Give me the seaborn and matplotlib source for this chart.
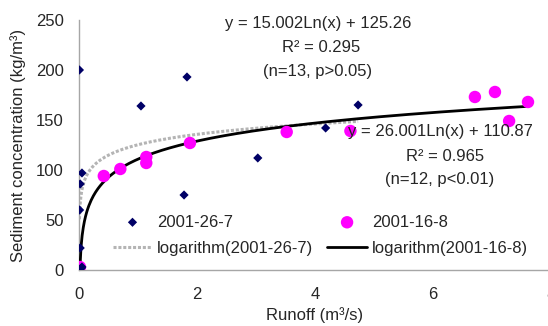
import numpy as np
import pandas as pd
import matplotlib
matplotlib.use("Agg")
import matplotlib.pyplot as plt
import seaborn as sns

# 2001-26-7 observations (runoff m3/s, sediment kg/m3)
runoff_jul = [0.007, 0.01, 0.02, 0.02, 0.05, 0.04, 0.05, 1.05, 1.78, 1.83, 3.03, 4.18, 4.73]
sed_jul = [200, 60, 86, 22, 97, 2, 3, 164, 75, 193, 112, 142, 165]

# 2001-16-8 observations
runoff_aug = [0.015, 0.42, 0.70, 1.14, 1.14, 1.88, 3.52, 4.60, 6.71, 7.05, 7.29, 7.61]
sed_aug = [3, 94, 101, 107, 113, 127, 138, 139, 173, 178, 149, 168]

# logarithmic trend coefficients shown on the chart
coef_jul = (15.002, 125.26)
coef_aug = (26.001, 110.87)

sns.set_style("white")
plt.rcParams['font.family'] = ['Liberation Sans', 'DejaVu Sans']
plt.rcParams['font.size'] = 12

df_jul = pd.DataFrame({'Runoff': runoff_jul, 'Sediment': sed_jul})
df_aug = pd.DataFrame({'Runoff': runoff_aug, 'Sediment': sed_aug})

xj = np.linspace(min(runoff_jul), max(runoff_jul), 400)
xa = np.linspace(min(runoff_aug), max(runoff_aug), 400)
fit_jul = pd.DataFrame({'Runoff': xj, 'Sediment': coef_jul[0] * np.log(xj) + coef_jul[1]})
fit_aug = pd.DataFrame({'Runoff': xa, 'Sediment': coef_aug[0] * np.log(xa) + coef_aug[1]})

fig = plt.figure(figsize=(5.48, 3.26), dpi=100)
ax = fig.add_axes([0.1442, 0.1718, 0.8613, 0.7669])

sns.lineplot(data=fit_jul, x='Runoff', y='Sediment', ax=ax, color='#b4b4b4',
             lw=2.2, linestyle=(0, (1, 0.6)), label='logarithm(2001-26-7)', zorder=2)
sns.lineplot(data=fit_aug, x='Runoff', y='Sediment', ax=ax, color='black',
             lw=2, label='logarithm(2001-16-8)', zorder=3)
sns.scatterplot(data=df_aug, x='Runoff', y='Sediment', ax=ax, color='#ff00ff',
                s=80, edgecolor='none', label='2001-16-8', zorder=4)
sns.scatterplot(data=df_jul, x='Runoff', y='Sediment', ax=ax, color='#000066',
                marker='D', s=22, edgecolor='none', label='2001-26-7', zorder=5)

ax.set_xlim(0, 8)
ax.set_ylim(0, 250)
ax.set_xticks([0, 2, 4, 6, 8])
ax.set_yticks([0, 50, 100, 150, 200, 250])
ax.set_xlabel('Runoff (m³/s)')
ax.set_ylabel('Sediment concentration (kg/m³)')
ax.xaxis.set_label_coords(0.5, -0.148)
ax.yaxis.set_label_coords(-0.112, 0.5)
for s in ['top', 'right']:
    ax.spines[s].set_visible(False)
for s in ['left', 'bottom']:
    ax.spines[s].set_color('#a6a6a6')
    ax.spines[s].set_linewidth(1)
ax.tick_params(axis='x', direction='in', length=4, color='#a6a6a6', pad=12)
ax.tick_params(axis='y', length=0, pad=11)

ax.text(4.05, 246, 'y = 15.002Ln(x) + 125.26', ha='center', va='center')
ax.text(4.1, 222, 'R² = 0.295', ha='center', va='center')
ax.text(4.05, 198, '(n=13, p>0.05)', ha='center', va='center')
ax.text(6.12, 138, 'y = 26.001Ln(x) + 110.87', ha='center', va='center', zorder=6)
ax.text(6.2, 113, 'R² = 0.965', ha='center', va='center')
ax.text(6.12, 90, '(n=12, p<0.01)', ha='center', va='center')

h, l = ax.get_legend_handles_labels()
order = [3, 0, 2, 1]
ax.legend([h[i] for i in order], [l[i] for i in order], ncol=2, frameon=False,
          loc='center left', bbox_to_anchor=(0.04, 0.138), handlelength=2.35,
          columnspacing=0.85, handletextpad=0.3, labelspacing=0.7)

fig.savefig('out.png', dpi=100)
